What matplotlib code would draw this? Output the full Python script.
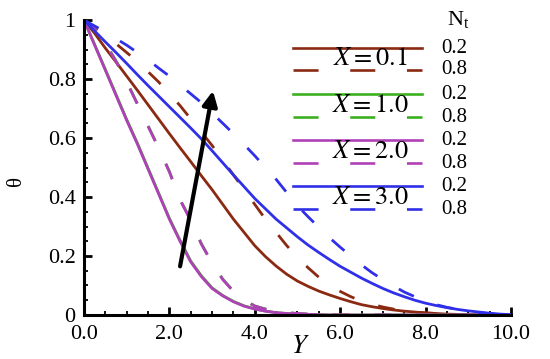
import numpy as np
import matplotlib
matplotlib.use("Agg")
import matplotlib.pyplot as plt
from matplotlib.ticker import MultipleLocator

plt.rcParams['font.family'] = ['Liberation Serif', 'DejaVu Serif']
plt.rcParams['mathtext.fontset'] = 'stix'

# data, Y = 0, 0.25, ..., 10
Y = np.arange(0, 10.01, 0.25)

# X = 0.1 (brown)
th_x01_nt02 = [1.0, 0.955, 0.905, 0.858, 0.81, 0.762, 0.713, 0.664, 0.615, 0.567, 0.52,
               0.472, 0.425, 0.375, 0.325, 0.28, 0.235, 0.198, 0.166, 0.138, 0.115,
               0.097, 0.081, 0.068, 0.056, 0.045, 0.035, 0.028, 0.022, 0.017, 0.013,
               0.01, 0.007, 0.005, 0.003, 0.002, 0.001, 0.0, 0.0, 0.0, 0.0]
th_x01_nt08 = [1.0, 0.975, 0.95, 0.92, 0.89, 0.86, 0.825, 0.79, 0.75, 0.71, 0.665,
               0.62, 0.575, 0.525, 0.475, 0.425, 0.375, 0.325, 0.28, 0.235, 0.195,
               0.16, 0.128, 0.102, 0.08, 0.062, 0.047, 0.036, 0.027, 0.02, 0.014,
               0.01, 0.007, 0.005, 0.003, 0.002, 0.001, 0.0, 0.0, 0.0, 0.0]
# X = 1.0 (green)
th_x1_nt02 = [1.0, 0.917, 0.833, 0.748, 0.663, 0.583, 0.498, 0.413, 0.328, 0.253, 0.183,
              0.133, 0.092, 0.066, 0.046, 0.031, 0.021, 0.013, 0.008, 0.005, 0.003,
              0.002, 0.001, 0.0, 0.0, 0.0, 0.0, 0.0, 0.0, 0.0, 0.0,
              0.0, 0.0, 0.0, 0.0, 0.0, 0.0, 0.0, 0.0, 0.0, 0.0]
th_x1_nt08 = [1.0, 0.972, 0.922, 0.862, 0.792, 0.717, 0.642, 0.567, 0.487, 0.392, 0.322,
              0.242, 0.177, 0.122, 0.081, 0.051, 0.031, 0.02, 0.012, 0.008, 0.005,
              0.003, 0.002, 0.001, 0.0, 0.0, 0.0, 0.0, 0.0, 0.0, 0.0,
              0.0, 0.0, 0.0, 0.0, 0.0, 0.0, 0.0, 0.0, 0.0, 0.0]
# X = 2.0 (magenta)
th_x2_nt02 = [1.0, 0.915, 0.83, 0.745, 0.66, 0.58, 0.495, 0.41, 0.325, 0.25, 0.18,
              0.13, 0.09, 0.065, 0.045, 0.03, 0.02, 0.013, 0.008, 0.005, 0.003,
              0.002, 0.001, 0.0, 0.0, 0.0, 0.0, 0.0, 0.0, 0.0, 0.0,
              0.0, 0.0, 0.0, 0.0, 0.0, 0.0, 0.0, 0.0, 0.0, 0.0]
th_x2_nt08 = [1.0, 0.97, 0.92, 0.86, 0.79, 0.715, 0.64, 0.565, 0.485, 0.39, 0.32,
              0.24, 0.175, 0.12, 0.08, 0.05, 0.03, 0.02, 0.012, 0.008, 0.005,
              0.003, 0.002, 0.001, 0.0, 0.0, 0.0, 0.0, 0.0, 0.0, 0.0,
              0.0, 0.0, 0.0, 0.0, 0.0, 0.0, 0.0, 0.0, 0.0, 0.0]
# X = 3.0 (blue)
th_x3_nt02 = [1.0, 0.963, 0.926, 0.89, 0.853, 0.815, 0.778, 0.742, 0.706, 0.67, 0.634,
              0.597, 0.557, 0.516, 0.475, 0.435, 0.395, 0.36, 0.325, 0.295, 0.265,
              0.237, 0.212, 0.188, 0.165, 0.145, 0.125, 0.107, 0.09, 0.075, 0.062,
              0.05, 0.04, 0.032, 0.025, 0.019, 0.014, 0.01, 0.006, 0.003, 0.001]
th_x3_nt08 = [1.0, 0.98, 0.96, 0.937, 0.915, 0.89, 0.865, 0.837, 0.81, 0.78, 0.75,
              0.72, 0.685, 0.65, 0.615, 0.578, 0.54, 0.5, 0.46, 0.415, 0.37,
              0.333, 0.297, 0.262, 0.23, 0.2, 0.17, 0.143, 0.12, 0.098, 0.078,
              0.062, 0.047, 0.035, 0.026, 0.019, 0.013, 0.008, 0.004, 0.002, 0.0]

x_labels = ['$X = 0.1$', '$X = 1.0$', '$X = 2.0$', '$X = 3.0$']
nt_labels = ['0.2', '0.8']
colors = ['#8B2A12', '#3DB020', '#B040B8', '#3030E8']
series = [(th_x01_nt02, th_x01_nt08), (th_x1_nt02, th_x1_nt08),
          (th_x2_nt02, th_x2_nt08), (th_x3_nt02, th_x3_nt08)]

arrow_start = (2.25, 0.165)
arrow_end = (3.02, 0.76)

fig = plt.figure(figsize=(5.5, 3.59), dpi=100)
ax = fig.add_axes([0.1527, 0.1226, 0.929 - 0.1527, 0.944 - 0.1226])

dash = (6, 9)
for (s02, s08), c in zip(series, colors):
    ax.plot(Y, s02, color=c, lw=2.0, solid_capstyle='butt')
    ax.plot(Y, s08, color=c, lw=2.0, dashes=dash, dash_capstyle='butt')

ax.annotate('', xy=arrow_end, xytext=arrow_start,
            arrowprops=dict(arrowstyle='-|>', lw=3, color='k', mutation_scale=22,
                            shrinkA=0, shrinkB=0))

# legend drawn by hand (two line samples per X value)
rows = [0.905, 0.831, 0.749, 0.671, 0.593, 0.515, 0.437, 0.359]
lx0, lx1 = 0.489, 0.792
for i, c in enumerate(colors):
    r1, r2 = rows[2 * i], rows[2 * i + 1]
    ax.plot([lx0, lx1], [r1, r1], transform=ax.transAxes, color=c, lw=1.9, clip_on=False)
    ax.plot([lx0, lx1], [r2, r2], transform=ax.transAxes, color=c, lw=1.9,
            dashes=(9.5, 12), dash_capstyle='butt', clip_on=False)
    ax.text(0.67, (r1 + r2) / 2, x_labels[i], transform=ax.transAxes, fontsize=19,
            ha='center', va='center')
    ax.text(0.837, r1, nt_labels[0], transform=ax.transAxes, fontsize=15, va='center')
    ax.text(0.837, r2, nt_labels[1], transform=ax.transAxes, fontsize=15, va='center')
fig.text(458 / 550, 1 - 19 / 359, r'N$_\mathregular{t}$', fontsize=16,
         ha='center', va='center')

ax.set_xlim(0, 10)
ax.set_ylim(0, 1)
ax.spines['top'].set_visible(False)
ax.spines['right'].set_visible(False)
for s in ('left', 'bottom'):
    ax.spines[s].set_linewidth(2.2)

ax.set_xticks([0, 2, 4, 6, 8, 10])
ax.set_xticklabels(['0.0', '2.0', '4.0', '6.0', '8.0', '10.0'])
ax.xaxis.set_minor_locator(MultipleLocator(0.5))
ax.set_yticks([0, 0.2, 0.4, 0.6, 0.8, 1.0])
ax.set_yticklabels(['0', '0.2', '0.4', '0.6', '0.8', '1'])
ax.yaxis.set_minor_locator(MultipleLocator(0.05))
ax.tick_params(which='both', direction='in', labelsize=16, width=1.3)
ax.tick_params(which='major', length=6, width=2)
ax.tick_params(which='minor', length=3)
ax.tick_params(axis='x', pad=7)
ax.tick_params(axis='y', pad=6)

fig.text(16 / 550, 1 - 181 / 359, 'θ', rotation=90, fontsize=15, ha='center', va='center')
fig.text(300 / 550, 1 - 347 / 359, '$Y$', fontsize=19, ha='center', va='center')

fig.savefig('out.png', dpi=100)
